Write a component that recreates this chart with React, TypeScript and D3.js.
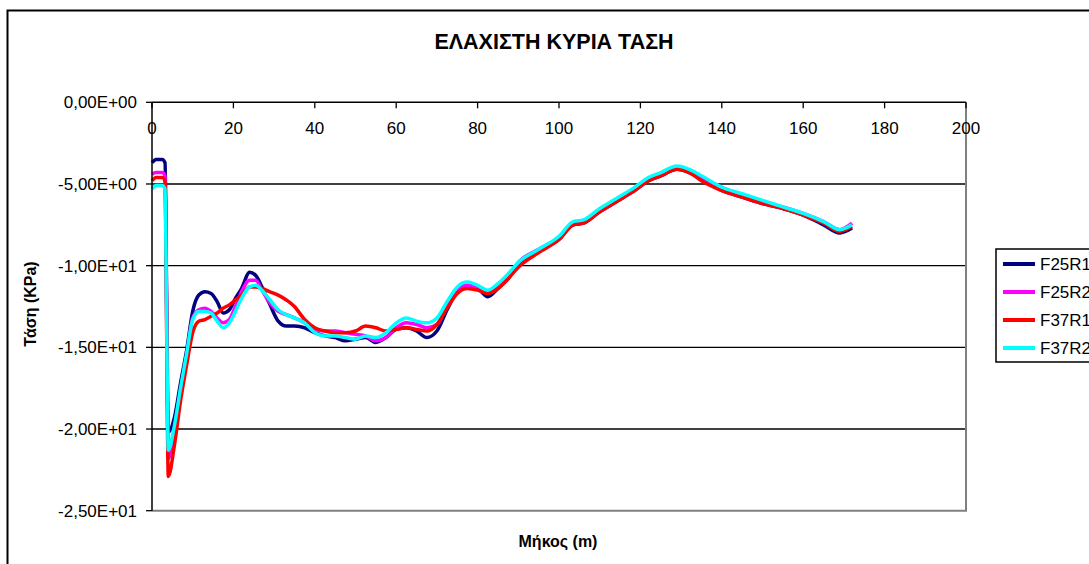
import React, { useRef, useEffect } from "react";
import * as d3 from "d3";

// length along the section (m)
const lengths = [
  0, 1, 2.5, 3.2, 3.6, 4.0, 5.5, 7, 8.5, 10, 11.5, 13, 14.5, 16, 17.5, 19, 20.5,
  22, 24, 25.5, 27, 29, 31, 33, 35, 37.5, 40, 42.5, 45, 47.5, 50, 52.5, 55,
  57.5, 60, 62.5, 65, 67.5, 70, 72.5, 75, 77.5, 80, 82.5, 85, 87.5, 90, 95, 100,
  103.5, 106, 110, 114, 118, 122, 125, 129, 132, 135, 140, 145, 150, 155, 160,
  165, 169, 172,
];

const f25r1 = [
  -3.7, -3.5, -3.5, -3.7, -12, -20.2, -19.3, -17.2, -15.2, -12.8, -11.8, -11.6,
  -11.7, -12.2, -12.9, -12.7, -12.0, -11.4, -10.4, -10.6, -11.3, -12.4, -13.4,
  -13.7, -13.7, -13.8, -14.1, -14.3, -14.4, -14.6, -14.5, -14.4, -14.7, -14.4,
  -13.9, -13.8, -14.0, -14.4, -14.0, -12.7, -11.6, -11.3, -11.4, -11.9, -11.4,
  -10.8, -9.9, -9.1, -8.4, -7.5, -7.4, -6.7, -6.1, -5.5, -4.8, -4.5, -4.1, -4.3,
  -4.7, -5.4, -5.8, -6.2, -6.5, -6.9, -7.5, -8.0, -7.7,
];
const f25r2 = [
  -4.4, -4.3, -4.3, -4.5, -13, -21.8, -20.3, -17.8, -15.6, -13.2, -12.7, -12.6,
  -12.8, -13.2, -13.5, -13.3, -12.5, -11.6, -10.9, -10.9, -11.5, -12.3, -12.8,
  -13.0, -13.2, -13.5, -13.9, -14.0, -14.0, -14.1, -14.2, -14.3, -14.6, -14.4,
  -13.8, -13.5, -13.6, -13.8, -13.6, -12.5, -11.5, -11.2, -11.3, -11.6, -11.3,
  -10.7, -9.8, -9.0, -8.3, -7.4, -7.3, -6.6, -6.0, -5.4, -4.7, -4.4, -4.0, -4.2,
  -4.6, -5.2, -5.7, -6.1, -6.4, -6.8, -7.3, -7.8, -7.4,
];
const f37r1 = [
  -4.8, -4.6, -4.6, -4.8, -14, -22.9, -21.0, -18.3, -16.1, -14.1, -13.4, -13.3,
  -13.1, -12.9, -12.6, -12.4, -12.1, -11.8, -11.3, -11.3, -11.4, -11.6, -11.8,
  -12.1, -12.5, -13.3, -13.8, -14.0, -14.1, -14.1, -14.0, -13.7, -13.8, -14.0,
  -13.9, -13.8, -13.9, -14.0, -13.6, -12.6, -11.7, -11.4, -11.5, -11.7, -11.4,
  -10.8, -10.1, -9.2, -8.4, -7.5, -7.4, -6.7, -6.1, -5.5, -4.8, -4.5, -4.1, -4.3,
  -4.8, -5.4, -5.8, -6.2, -6.5, -6.9, -7.4, -7.9, -7.6,
];
const f37r2 = [
  -5.3, -5.1, -5.1, -5.3, -13.5, -21.3, -19.8, -17.5, -15.4, -13.3, -12.8, -12.8,
  -12.9, -13.4, -13.8, -13.5, -12.8, -12.0, -11.3, -11.2, -11.5, -12.1, -12.7,
  -13.0, -13.2, -13.5, -14.1, -14.3, -14.3, -14.4, -14.5, -14.3, -14.4, -14.1,
  -13.5, -13.2, -13.4, -13.5, -13.2, -12.2, -11.3, -11.0, -11.2, -11.5, -11.1,
  -10.5, -9.8, -9.0, -8.2, -7.3, -7.2, -6.5, -5.9, -5.3, -4.6, -4.3, -3.9, -4.1,
  -4.5, -5.2, -5.6, -6.0, -6.4, -6.8, -7.3, -7.8, -7.5,
];

const seriesNames = ["F25R1", "F25R2", "F37R1", "F37R2"];
const seriesValues = [f25r1, f25r2, f37r1, f37r2];
const seriesColors = ["#000080", "#ff00ff", "#ff0000", "#00ffff"];

const xTicks = [0, 20, 40, 60, 80, 100, 120, 140, 160, 180, 200];
const yTicks = [0, -5, -10, -15, -20, -25];
const yTickLabels = [
  "0,00E+00",
  "-5,00E+00",
  "-1,00E+01",
  "-1,50E+01",
  "-2,00E+01",
  "-2,50E+01",
];

const font = "'Liberation Sans', Arial, sans-serif";

export default function App() {
  const ref = useRef<SVGSVGElement>(null);

  // plot area
  const left = 152,
    right = 966,
    top = 102.3,
    bottom = 510.7;

  useEffect(() => {
    const svg = d3.select(ref.current);
    svg.selectAll("*").remove();

    const x = d3.scaleLinear().domain([0, 200]).range([left, right]);
    const y = d3.scaleLinear().domain([-25, 0]).range([bottom, top]);

    // outer chart border
    svg
      .append("rect")
      .attr("x", 7.5)
      .attr("y", 10.5)
      .attr("width", 1200)
      .attr("height", 700)
      .attr("fill", "white")
      .attr("stroke", "black")
      .attr("stroke-width", 2);

    // title
    svg
      .append("text")
      .attr("x", 554)
      .attr("y", 49)
      .attr("text-anchor", "middle")
      .style("font", `bold 21.5px ${font}`)
      .text("ΕΛΑΧΙΣΤΗ ΚΥΡΙΑ ΤΑΣΗ");

    // gridlines
    svg
      .append("g")
      .selectAll("line")
      .data(yTicks.filter((d) => d !== 0 && d !== -25))
      .join("line")
      .attr("x1", left)
      .attr("x2", right)
      .attr("y1", (d) => y(d))
      .attr("y2", (d) => y(d))
      .attr("stroke", "black")
      .attr("stroke-width", 1.3);

    // plot area right/bottom border
    svg
      .append("path")
      .attr("d", `M${right},${top}V${bottom}H${left}`)
      .attr("fill", "none")
      .attr("stroke", "#808080")
      .attr("stroke-width", 2);

    // series
    const line = d3
      .line<number>()
      .x((_, i) => x(lengths[i]))
      .y((d) => y(d))
      .curve(d3.curveMonotoneX);

    svg
      .append("g")
      .selectAll("path")
      .data(seriesValues)
      .join("path")
      .attr("d", (d) => line(d))
      .attr("fill", "none")
      .attr("stroke", (_, i) => seriesColors[i])
      .attr("stroke-width", 3.5)
      .attr("stroke-linejoin", "round");

    // x axis along y = 0, ticks pointing down into the plot
    const xAxis = svg.append("g");
    xAxis
      .append("line")
      .attr("x1", left)
      .attr("x2", right)
      .attr("y1", top)
      .attr("y2", top)
      .attr("stroke", "black")
      .attr("stroke-width", 1.5);
    xAxis
      .selectAll("line.tick")
      .data(xTicks)
      .join("line")
      .attr("class", "tick")
      .attr("x1", (d) => x(d))
      .attr("x2", (d) => x(d))
      .attr("y1", top)
      .attr("y2", top + 6)
      .attr("stroke", "black")
      .attr("stroke-width", 1.3);
    xAxis
      .selectAll("text")
      .data(xTicks)
      .join("text")
      .attr("x", (d) => x(d))
      .attr("y", top + 31.5)
      .attr("text-anchor", "middle")
      .style("font", `17px ${font}`)
      .text((d) => String(d));

    // y axis
    const yAxis = svg.append("g");
    yAxis
      .append("line")
      .attr("x1", left)
      .attr("x2", left)
      .attr("y1", top)
      .attr("y2", bottom)
      .attr("stroke", "black")
      .attr("stroke-width", 1.5);
    yAxis
      .selectAll("line.tick")
      .data(yTicks)
      .join("line")
      .attr("class", "tick")
      .attr("x1", left - 6)
      .attr("x2", left)
      .attr("y1", (d) => y(d))
      .attr("y2", (d) => y(d))
      .attr("stroke", "black")
      .attr("stroke-width", 1.3);
    yAxis
      .selectAll("text")
      .data(yTicks)
      .join("text")
      .attr("x", 137)
      .attr("y", (d) => y(d))
      .attr("dy", "0.36em")
      .attr("text-anchor", "end")
      .style("font", `17px ${font}`)
      .text((_, i) => yTickLabels[i]);

    // axis titles
    svg
      .append("text")
      .attr("transform", "translate(36,304) rotate(-90)")
      .attr("text-anchor", "middle")
      .style("font", `bold 16px ${font}`)
      .text("Τάση (KPa)");
    svg
      .append("text")
      .attr("x", 558)
      .attr("y", 547)
      .attr("text-anchor", "middle")
      .style("font", `bold 16px ${font}`)
      .text("Μήκος (m)");

    // legend
    const legend = svg.append("g");
    legend
      .append("rect")
      .attr("x", 996)
      .attr("y", 249)
      .attr("width", 140)
      .attr("height", 113)
      .attr("fill", "white")
      .attr("stroke", "black")
      .attr("stroke-width", 1.5);
    const items = legend
      .selectAll("g")
      .data(seriesNames)
      .join("g")
      .attr("transform", (_, i) => `translate(0,${264 + i * 28})`);
    items
      .append("line")
      .attr("x1", 1003)
      .attr("x2", 1035)
      .attr("stroke", (_, i) => seriesColors[i])
      .attr("stroke-width", 4);
    items
      .append("text")
      .attr("x", 1040)
      .attr("dy", "0.36em")
      .style("font", `17px ${font}`)
      .text((d) => d);
  }, []);

  return (
    <svg
      ref={ref}
      width={1089}
      height={564}
      style={{ position: "absolute", left: 0, top: 0, background: "white" }}
    />
  );
}
